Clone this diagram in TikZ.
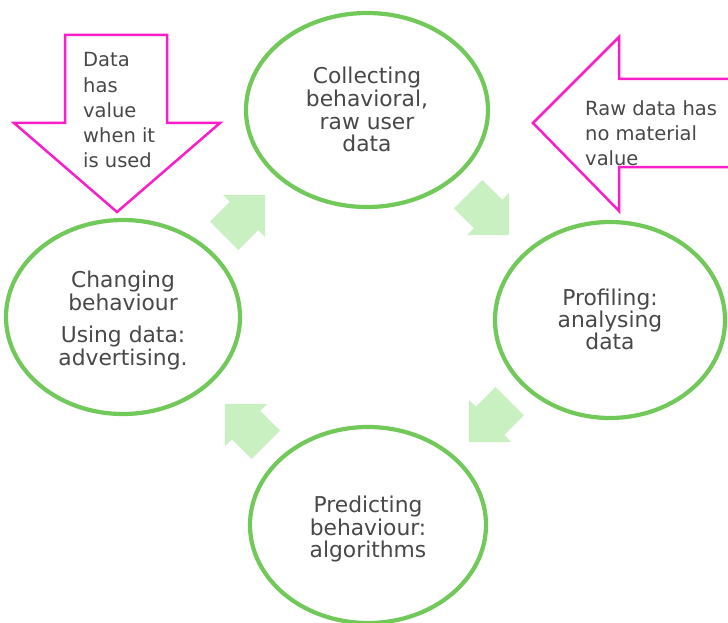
\documentclass[tikz,border=0pt]{standalone}
\usepackage{fontspec}
\setmainfont{DejaVu Sans}
\usetikzlibrary{shapes.geometric}

\definecolor{ringgreen}{RGB}{112,201,88}
\definecolor{flowgreen}{RGB}{200,240,192}
\definecolor{notemagenta}{RGB}{250,30,200}
\definecolor{textgray}{RGB}{72,72,72}

\tikzset{
  stage/.style={ellipse, draw=ringgreen, line width=4.2pt, fill=white, inner sep=0pt},
  stagetext/.style={align=center, text=textgray, inner sep=0pt,
    font=\fontsize{21.8}{22.8}\selectfont},
  notebox/.style={draw=notemagenta, line width=2.5pt, fill=white, line join=miter},
  notetext/.style={align=left, text=textgray, inner sep=0pt, anchor=north west,
    font=\fontsize{19.5}{25.2}\selectfont},
  cyclearrow/.pic={
    \fill[flowgreen] (-28,-20) -- (0,-20) -- (0,-30) -- (30,0) -- (0,30)
      -- (0,20) -- (-28,20) -- cycle;
  }
}

\begin{document}
\begin{tikzpicture}[x=1pt, y=-1pt]
  \clip (0,0) rectangle (728,623);
  \fill[white] (0,0) rectangle (728,623);

  % the four stages of the cycle
  \node[stage, minimum width=242pt, minimum height=194pt] (collect) at (367,110) {};
  \node[stage, minimum width=230pt, minimum height=196pt] (profile) at (610,320) {};
  \node[stage, minimum width=236pt, minimum height=196pt] (predict) at (368,525) {};
  \node[stage, minimum width=234pt, minimum height=194pt] (change)  at (123,317) {};

  \node[stagetext] (collectT) at (367,109.5) {Collecting\\behavioral,\\raw user\\data};
  \node[stagetext, font=\fontsize{21.8}{20.8}\selectfont] (profileT) at (610,319.5) {Profiling:\\analysing\\data};
  \node[stagetext] (predictT) at (368,529) {Predicting\\behaviour:\\algorithms};
  \node[stagetext] (changeT)  at (123,320.5) {Changing\\behaviour\\[9pt]Using data:\\advertising.};

  % block arrows running clockwise between the stages
  \pic[rotate=45]   (flowA) at (244,216) {cyclearrow};
  \pic[rotate=-45]  (flowB) at (488,214) {cyclearrow};
  \pic[rotate=-135] (flowC) at (490,421) {cyclearrow};
  \pic[rotate=135]  (flowD) at (246,425) {cyclearrow};

  % magenta callout arrows
  \draw[notebox] (65,35) -- (167,35) -- (167,123) -- (220,123) -- (117,212)
    -- (14,123) -- (65,123) -- cycle;
  \node[notetext] (usedT) at (83,52.5) {Data\\has\\value\\when it\\is used};

  \draw[notebox] (740,79) -- (619,79) -- (619,37) -- (533,123) -- (619,211)
    -- (619,167) -- (740,167);
  \node[notetext] (rawT) at (585,100.5) {Raw data has\\no material\\value};
\end{tikzpicture}
\end{document}
